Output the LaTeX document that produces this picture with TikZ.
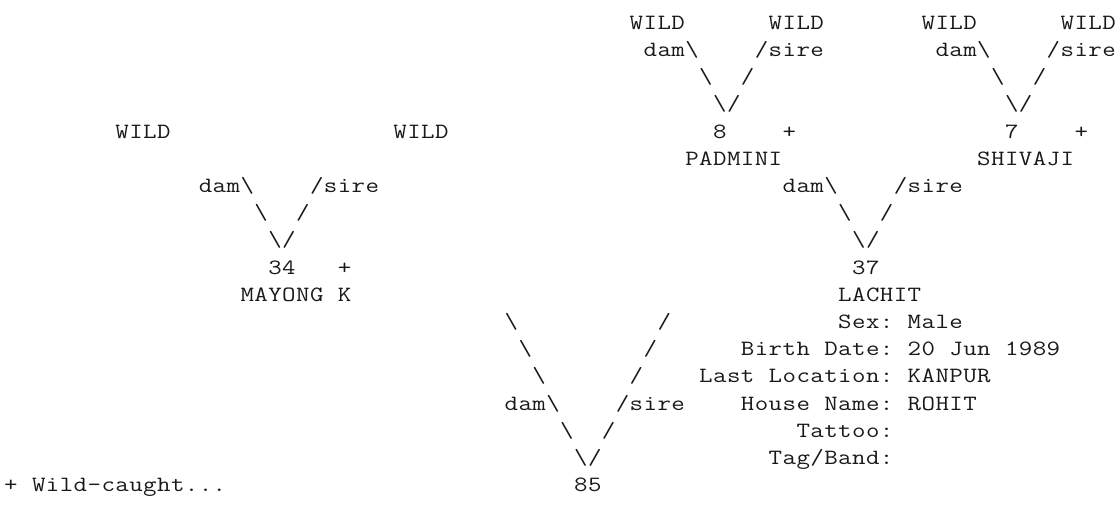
\documentclass[tikz,border=0pt]{standalone}
\usepackage{graphicx}
\ExplSyntaxOn
\NewDocumentCommand\asciirow{m}{ \tl_map_inline:nn {#1} { \makebox[13.9pt][c]{\scalebox{1.2}[1]{##1}} } }
\ExplSyntaxOff
\newcommand\bs{\textbackslash}
\tikzset{txt/.style={anchor=base west, inner sep=0pt, outer sep=0pt, text=black!90, font=\ttfamily\fontsize{21.8}{26}\selectfont}}
\newcommand\T[4]{\node[txt] (#3) at ({4pt+13.9pt*#1},{-29.3pt-27.2pt*#2}) {\asciirow{#4}};}
\begin{document}
\begin{tikzpicture}
\fill[white] (0,0) rectangle (1120pt,-506pt);
\useasboundingbox (0,0) rectangle (1120pt,-506pt);
% row 0
\T{45}{0}{w1}{WILD}
\T{55}{0}{w2}{WILD}
\T{66}{0}{w3}{WILD}
\T{76}{0}{w4}{WILD}
% row 1
\T{46}{1}{d8}{dam\bs}
\T{54}{1}{s8}{/sire}
\T{67}{1}{d7}{dam\bs}
\T{75}{1}{s7}{/sire}
% row 2
\T{50}{2}{a8}{\bs}
\T{53}{2}{b8}{/}
\T{71}{2}{a7}{\bs}
\T{74}{2}{b7}{/}
% row 3
\T{51}{3}{v8}{\bs/}
\T{72}{3}{v7}{\bs/}
% row 4
\T{8}{4}{w5}{WILD}
\T{28}{4}{w6}{WILD}
\T{51}{4}{n8}{8}
\T{56}{4}{p8}{+}
\T{72}{4}{n7}{7}
\T{77}{4}{p7}{+}
% row 5
\T{49}{5}{padmini}{PADMINI}
\T{70}{5}{shivaji}{SHIVAJI}
% row 6
\T{14}{6}{d34}{dam\bs}
\T{22}{6}{s34}{/sire}
\T{56}{6}{d37}{dam\bs}
\T{64}{6}{s37}{/sire}
% row 7
\T{18}{7}{a34}{\bs}
\T{21}{7}{b34}{/}
\T{60}{7}{a37}{\bs}
\T{63}{7}{b37}{/}
% row 8
\T{19}{8}{v34}{\bs/}
\T{61}{8}{v37}{\bs/}
% row 9
\T{19}{9}{n34}{34}
\T{24}{9}{p34}{+}
\T{61}{9}{n37}{37}
% row 10
\T{17}{10}{mayong}{MAYONG~K}
\T{60}{10}{lachit}{LACHIT}
% rows 11-17
\T{36}{11}{a1}{\bs}
\T{47}{11}{b1}{/}
\T{60}{11}{sex}{Sex:~Male}
\T{37}{12}{a2}{\bs}
\T{46}{12}{b2}{/}
\T{53}{12}{birth}{Birth~Date:~20~Jun~1989}
\T{38}{13}{a3}{\bs}
\T{45}{13}{b3}{/}
\T{50}{13}{loc}{Last~Location:~KANPUR}
\T{36}{14}{d85}{dam\bs}
\T{44}{14}{s85}{/sire}
\T{53}{14}{house}{House~Name:~ROHIT}
\T{40}{15}{a4}{\bs}
\T{43}{15}{b4}{/}
\T{57}{15}{tattoo}{Tattoo:}
\T{41}{16}{v85}{\bs/}
\T{55}{16}{tag}{Tag/Band:}
\T{0}{17}{legend}{+~Wild-caught...}
\T{41}{17}{n85}{85}
\end{tikzpicture}
\end{document}
